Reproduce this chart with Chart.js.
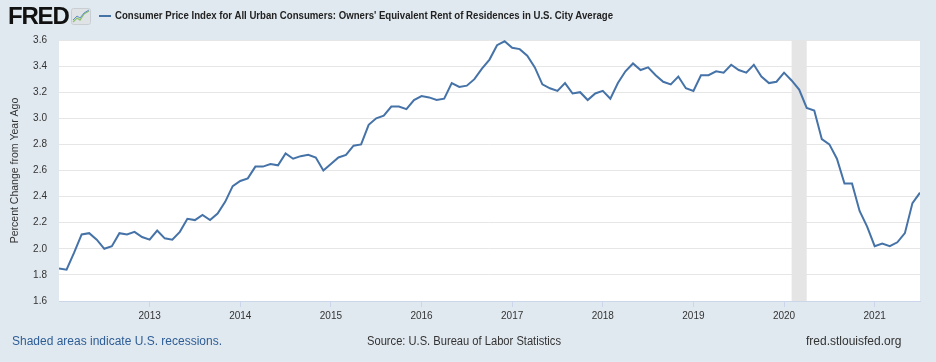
<!DOCTYPE html>
<html lang="en">
<head>
  <meta charset="UTF-8">
  <title>Owners' Equivalent Rent of Residences</title>
  <script src="https://cdn.jsdelivr.net/npm/chart.js"></script>
  <style>
    html, body { margin: 0; padding: 0; }
    body {
      width: 936px; height: 362px; overflow: hidden; position: relative;
      background: #e1e9f0; font-family: "Liberation Sans", Arial, sans-serif; color: #333;
    }
    #chart { position: absolute; left: 0; top: 0; }
    .abs { position: absolute; white-space: nowrap; }
    #logo { left: 8px; top: 2px; font: bold 24px "Liberation Sans", Arial, sans-serif; letter-spacing: -1.2px; color: #111; }
    #icon { left: 71px; top: 8px; }
    #legLine { left: 99px; top: 15px; width: 12px; height: 2px; background: #4572a7; }
    #title { left: 115px; top: 9px; font: bold 11px "Liberation Sans", Arial, sans-serif; color: #222; transform-origin: left center; }
    .foot { top: 334px; font-size: 12px; transform-origin: left center; }
    #shaded { left: 12px; color: #2d5d95; }
    #source { left: 367px; color: #333; }
    #site { left: 806px; color: #333; }
  </style>
</head>
<body>
<canvas id="chart" width="936" height="362"></canvas>
<div id="logo" class="abs">FRED</div>
<svg id="icon" class="abs" width="20" height="17" viewBox="0 0 20 17">
  <rect x="0.5" y="0.5" width="19" height="16" rx="2" fill="#dfe3e6" stroke="#c9ced2"/>
  <polyline points="2,14 6,10 9,12 13,6 18,3" fill="none" stroke="#8dc16d" stroke-width="1.3"/>
  <polyline points="2,12 6,8 9,10 13,5 18,2" fill="none" stroke="#5f8fc4" stroke-width="1"/>
</svg>
<div id="legLine" class="abs"></div>
<div id="title" class="abs">Consumer Price Index for All Urban Consumers: Owners' Equivalent Rent of Residences in U.S. City Average</div>
<div id="shaded" class="abs foot">Shaded areas indicate U.S. recessions.</div>
<div id="source" class="abs foot">Source: U.S. Bureau of Labor Statistics</div>
<div id="site" class="abs foot">fred.stlouisfed.org</div>
<script>
  // Monthly series, percent change from year ago, starting January 2012
  const startYear = 2012;
  const oerPct = [
    1.85, 1.84, 1.97, 2.11, 2.12, 2.07, 2.00, 2.02, 2.12, 2.11, 2.13, 2.09, // 2012
    2.07, 2.14, 2.08, 2.07, 2.13, 2.23, 2.22, 2.26, 2.22, 2.27, 2.36, 2.48, // 2013
    2.52, 2.54, 2.63, 2.63, 2.65, 2.64, 2.73, 2.69, 2.71, 2.72, 2.70, 2.60, // 2014
    2.65, 2.70, 2.72, 2.79, 2.80, 2.95, 3.00, 3.02, 3.09, 3.09, 3.07, 3.14, // 2015
    3.17, 3.16, 3.14, 3.15, 3.27, 3.24, 3.25, 3.30, 3.38, 3.45, 3.56, 3.59, // 2016
    3.54, 3.53, 3.48, 3.39, 3.26, 3.23, 3.21, 3.27, 3.19, 3.20, 3.14, 3.19, // 2017
    3.21, 3.15, 3.27, 3.36, 3.42, 3.37, 3.39, 3.33, 3.28, 3.26, 3.32, 3.23, // 2018
    3.21, 3.33, 3.33, 3.36, 3.35, 3.41, 3.37, 3.35, 3.41, 3.32, 3.27, 3.28, // 2019
    3.35, 3.29, 3.22, 3.08, 3.06, 2.84, 2.80, 2.69, 2.50, 2.50, 2.29, 2.17, // 2020
    2.02, 2.04, 2.02, 2.05, 2.12, 2.35, 2.43                                // 2021
  ];
  const yearTicks = [2013, 2014, 2015, 2016, 2017, 2018, 2019, 2020, 2021];
  const pctTicks = [1.6, 1.8, 2.0, 2.2, 2.4, 2.6, 2.8, 3.0, 3.2, 3.4, 3.6];
  const recessions = [['2020-02', '2020-04']];

  // 'YYYY-MM' -> fractional year
  function toYear(s) {
    const [y, m] = s.split('-').map(Number);
    return y + (m - 1) / 12;
  }

  const points = oerPct.map((v, i) => ({ x: startYear + i / 12, y: v }));

  const plotBg = {
    id: 'plotBg',
    beforeDraw(chart) {
      const { ctx, chartArea: a } = chart;
      ctx.save();
      ctx.fillStyle = '#ffffff';
      ctx.fillRect(a.left, a.top, a.right - a.left, a.bottom - a.top);
      ctx.restore();
    }
  };

  const recessionBands = {
    id: 'recessionBands',
    beforeDatasetsDraw(chart) {
      const { ctx, chartArea: a, scales } = chart;
      ctx.save();
      ctx.fillStyle = '#e5e5e5';
      recessions.forEach(([from, to]) => {
        const x0 = scales.x.getPixelForValue(toYear(from));
        const x1 = scales.x.getPixelForValue(toYear(to));
        ctx.fillRect(x0, a.top, x1 - x0, a.bottom - a.top);
      });
      ctx.restore();
    }
  };

  new Chart(document.getElementById('chart').getContext('2d'), {
    type: 'line',
    data: {
      datasets: [{
        label: 'Owners\' Equivalent Rent',
        data: points,
        borderColor: '#4572a7',
        borderWidth: 2,
        pointRadius: 0,
        tension: 0,
        fill: false
      }]
    },
    options: {
      responsive: false,
      animation: false,
      layout: { padding: { top: 40, right: 16, bottom: 39, left: 0 } },
      plugins: { legend: { display: false }, tooltip: { enabled: false } },
      scales: {
        x: {
          type: 'linear',
          min: startYear,
          max: startYear + (oerPct.length - 1) / 12,
          afterBuildTicks: s => { s.ticks = yearTicks.map(v => ({ value: v })); },
          afterFit: s => { s.height = 22; },
          border: { color: '#ccd6eb' },
          grid: { drawOnChartArea: false, drawTicks: true, tickLength: 6, color: '#ccd6eb' },
          ticks: { color: '#333', padding: 3, maxRotation: 0, font: { size: 10, family: 'Liberation Sans' },
                   callback: v => String(v) }
        },
        y: {
          min: 1.6,
          max: 3.6,
          afterBuildTicks: s => { s.ticks = pctTicks.map(v => ({ value: v })); },
          afterFit: s => { s.width = 59; },
          border: { display: false },
          grid: { color: '#e6e6e6', drawTicks: false },
          ticks: { color: '#333', padding: 12, font: { size: 10, family: 'Liberation Sans' },
                   callback: v => v.toFixed(1) },
          title: {
            display: true,
            text: 'Percent Change from Year Ago',
            color: '#333',
            padding: { top: 9, bottom: 0 },
            font: { size: 10.5, family: 'Liberation Sans' }
          }
        }
      }
    },
    plugins: [plotBg, recessionBands]
  });

  // squeeze header/footer text to the widths of the reference lettering
  function fitWidth(id, w) {
    const el = document.getElementById(id);
    el.style.transform = 'scaleX(' + (w / el.getBoundingClientRect().width) + ')';
  }
  fitWidth('title', 498);
  fitWidth('shaded', 210);
  fitWidth('source', 194);
</script>
</body>
</html>
